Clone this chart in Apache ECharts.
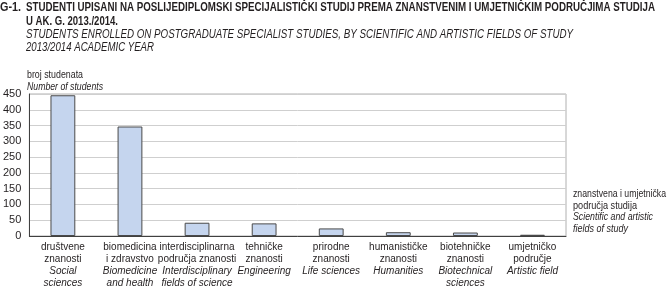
<!DOCTYPE html>
<html><head><meta charset="utf-8">
<script src="https://cdn.jsdelivr.net/npm/echarts@6/dist/echarts.min.js"></script>
<style>html,body{margin:0;padding:0;background:#fff}#c{width:667px;height:288px}</style>
</head><body><div id="c"></div>
<script>
const categoriesHr = ['društvene\nznanosti', 'biomedicina\ni zdravstvo', 'interdisciplinarna\npodručja znanosti', 'tehničke\nznanosti', 'prirodne\nznanosti', 'humanističke\nznanosti', 'biotehničke\nznanosti', 'umjetničko\npodručje'];
const categoriesEn = ['Social\nsciences', 'Biomedicine\nand health', 'Interdisciplinary\nfields of science', 'Engineering', 'Life sciences', 'Humanities', 'Biotechnical\nsciences', 'Artistic field'];
const students = [446, 347, 42, 40, 24, 12, 11, 4];
const yTicks = [0, 50, 100, 150, 200, 250, 300, 350, 400, 450];

const FONT = "'Liberation Sans', Arial, sans-serif";
const TXT = '#231f20';

const mctx = document.createElement('canvas').getContext('2d');
function fitText(text, font, x, yMid, width) {
  mctx.font = font;
  const w = mctx.measureText(text).width;
  const s = Math.min(1, width / w);
  return {type: 'text', x: x, y: yMid, scaleX: s, scaleY: 1, originX: 0, originY: 0,
    style: {text: text, font: font, fill: TXT, verticalAlign: 'middle', align: 'left'}};
}

const chart = echarts.init(document.getElementById('c'), null, {renderer: 'canvas'});
const cats = categoriesHr.map((h, i) => i);
function wrap(text, tag) { return text.split('\n').map(l => '{' + tag + '|' + l + '}').join('\n'); }

const TB = 'bold 13px ' + FONT;
const TI = 'italic 13px ' + FONT;
const SN = '11px ' + FONT;
const SI = 'italic 11px ' + FONT;

chart.setOption({
  animation: false,
  textStyle: {fontFamily: FONT},
  grid: {left: 25, right: 101, top: 94, bottom: 52, show: true, borderColor: '#b0b0b0', borderWidth: 1},
  xAxis: {
    type: 'category',
    data: cats,
    axisLine: {lineStyle: {color: '#404040', width: 1}},
    axisTick: {show: false},
    axisLabel: {
      margin: 5,
      interval: 0,
      formatter: (v, i) => wrap(categoriesHr[i], 'a') + '\n' + wrap(categoriesEn[i], 'b'),
      rich: {
        a: {fontFamily: FONT, fontSize: 10, color: TXT, lineHeight: 12},
        b: {fontFamily: FONT, fontSize: 10, color: TXT, lineHeight: 12, fontStyle: 'italic'}
      }
    }
  },
  yAxis: {
    type: 'value',
    min: yTicks[0],
    max: yTicks[yTicks.length - 1],
    interval: 50,
    axisLine: {show: true, lineStyle: {color: '#404040', width: 1}},
    axisTick: {show: false},
    splitLine: {lineStyle: {color: '#cfcfcf', width: 1}},
    axisLabel: {fontFamily: FONT, fontSize: 11, color: TXT, margin: 8}
  },
  series: [{
    type: 'bar',
    data: students,
    barWidth: '37%',
    itemStyle: {color: '#c5d5ee', borderColor: '#4a4a4a', borderWidth: 1}
  }],
  graphic: [
    fitText('G-1.', TB, 0, 7, 21),
    fitText('STUDENTI UPISANI NA POSLIJEDIPLOMSKI SPECIJALISTIČKI STUDIJ PREMA ZNANSTVENIM I UMJETNIČKIM PODRUČJIMA STUDIJA', TB, 26, 7, 629),
    fitText('U AK. G. 2013./2014.', TB, 26, 21, 92),
    fitText('STUDENTS ENROLLED ON POSTGRADUATE SPECIALIST STUDIES, BY SCIENTIFIC AND ARTISTIC FIELDS OF STUDY', TI, 26, 34, 547),
    fitText('2013/2014 ACADEMIC YEAR', TI, 26, 47, 128),
    fitText('broj studenata', SN, 27, 75, 56),
    fitText('Number of students', SI, 27, 87, 76),
    fitText('znanstvena i umjetnička', SN, 573, 194, 93),
    fitText('područja studija', SN, 573, 206, 64),
    fitText('Scientific and artistic', SI, 573, 217, 80),
    fitText('fields of study', SI, 573, 229, 55)
  ]
});
</script>
</body></html>
